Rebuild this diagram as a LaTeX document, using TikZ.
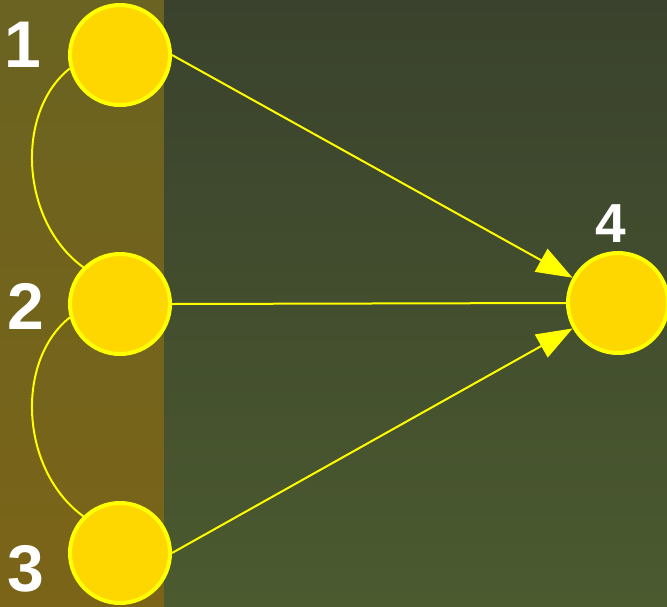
\documentclass[tikz,border=0pt]{standalone}
\usepackage{fontspec}
\setmainfont{Liberation Sans}
\usetikzlibrary{arrows.meta}
\definecolor{ltop}{HTML}{6A6321}
\definecolor{lbot}{HTML}{7B6418}
\definecolor{rtop}{HTML}{3A422D}
\definecolor{rbot}{HTML}{4B5A2F}
\definecolor{gold}{HTML}{FFD700}
\definecolor{yel}{HTML}{FFFF00}
\tikzset{
  dot/.style={circle,fill=gold,draw=yel,line width=4pt,minimum size=100pt,inner sep=0pt},
  lab/.style={text=white,font=\bfseries\fontsize{66}{66}\selectfont,anchor=base,inner sep=0pt},
  conn/.style={draw=yel,line width=2pt},
  arr/.style={conn,-{Triangle[length=36pt,width=26pt]}}
}
\begin{document}
\begin{tikzpicture}[x=1pt,y=-1pt]
\useasboundingbox (0,0) rectangle (667,606);
\shade[top color=ltop,bottom color=lbot] (0,0) rectangle (164,606);
\shade[top color=rtop,bottom color=rbot] (164,0) rectangle (667,606);
\node[dot] (n1) at (120,55) {};
\node[dot] (n2) at (120,304) {};
\node[dot] (n3) at (120,553) {};
\node[dot] (n4) at (618,303) {};
\node[lab] (l1) at (23,67) {1};
\node[lab] (l2) at (26,329) {2};
\node[lab] (l3) at (26,591) {3};
\node[lab,font=\bfseries\fontsize{55}{55}\selectfont] (l4) at (611,242) {4};
\draw[conn] (n1.195) .. controls (15,112) and (20,221) .. (n2.135);
\draw[conn] (n2.195) .. controls (15,361) and (20,470) .. (n3.135);
\draw[arr] (n1.east) -- (n4);
\draw[conn] (n2.east) -- (n4.west);
\draw[arr] (n3.east) -- (n4);
\end{tikzpicture}
\end{document}
